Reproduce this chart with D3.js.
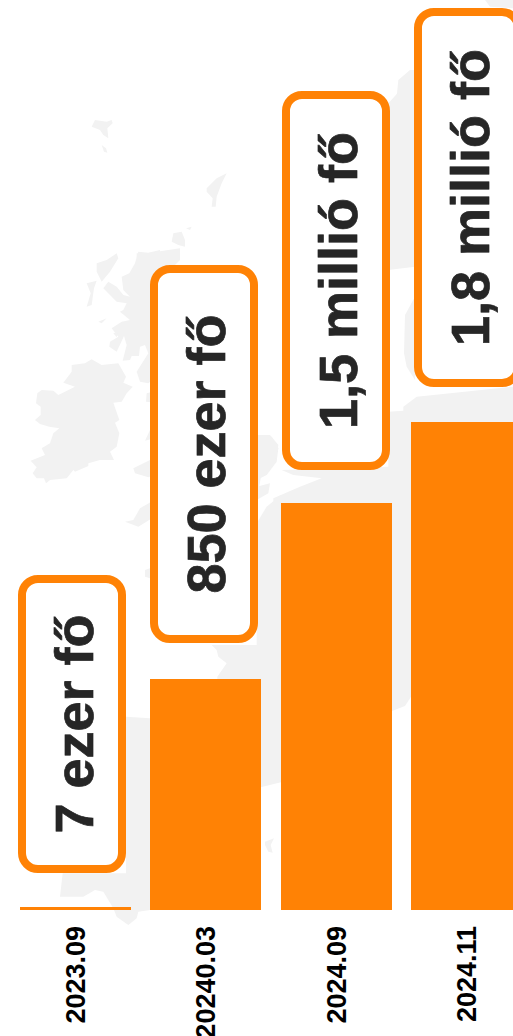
<!DOCTYPE html>
<html><head><meta charset="utf-8">
<script src="https://cdn.jsdelivr.net/npm/d3@7"></script>
<style>html,body{margin:0;padding:0;background:#fff;overflow:hidden}svg{display:block}</style>
</head><body><svg id="c" width="513" height="1036"></svg>
<script>
const categories=["2023.09","20240.03","2024.09","2024.11"];
const values=[7,850,1500,1800];
const valueLabels=["7 ezer fő","850 ezer fő","1,5 millió fő","1,8 millió fő"];
const boxTops=[579,269,95,12];
const boxBottoms=[869,639,466,383];
const orange="#ff8205",ink="#262626",land="#f2f2f2";
// Decorative background map: outlines traced at 3x, each group with its page offset
const mapGroups=[
 {o:[20,230],s:[
  [[155,405],[195,400],[215,388],[245,405],[295,400],[318,440],[310,458],[338,470],[320,490],[305,515],[280,518],[298,570],[285,578],[298,610],[290,650],[270,665],[282,690],[240,690],[205,700],[205,708],[165,725],[160,720],[140,745],[90,750],[78,760],[72,745],[50,745],[38,730],[50,712],[32,692],[75,675],[65,655],[90,640],[100,610],[118,595],[88,590],[60,582],[45,570],[62,555],[62,530],[48,520],[52,490],[65,480],[100,482],[115,495],[165,470],[130,458],[155,425]],
  [[355,65],[385,68],[420,60],[420,430],[385,460],[360,455],[350,425],[385,370],[375,345],[360,350],[357,378],[335,378],[330,390],[308,392],[320,345],[312,318],[290,365],[268,350],[270,335],[295,320],[275,295],[305,275],[330,270],[300,245],[280,255],[310,240],[320,220],[290,215],[270,195],[250,175],[265,155],[290,170],[310,195],[330,200],[310,180],[305,140],[328,130],[345,100]],
  [[290,70],[295,85],[270,125],[245,155],[230,125],[230,100],[260,90]],
  [[200,160],[230,152],[222,175],[215,225],[200,230],[212,190]],
  [[235,275],[260,265],[245,280]],
  [[280,310],[295,305],[290,322]],
  [[380,490],[420,480],[420,520],[378,515]],
  [[340,715],[390,690],[420,690],[420,730],[385,742],[345,730]],
  [[390,600],[420,590],[420,620],[375,632]],
  [[315,875],[340,870],[360,835],[420,800],[420,850],[355,890]]
 ]},
 {o:[0,100],s:[
  [[275,80],[285,60],[320,65],[335,60],[338,70],[322,85],[325,115],[310,105],[300,90]],
  [[305,135],[318,145],[322,158],[312,155]],
  [[620,265],[650,235],[680,220],[665,250],[650,290],[647,320],[635,320],[638,295],[620,275]],
  [[520,400],[545,395],[555,420],[555,440],[535,435],[515,425]],
  [[558,385],[575,380],[570,390]],
  [[410,460],[440,460],[540,445],[540,480],[500,520],[410,520]]
 ]},
 {o:[100,380],s:[
  [[470,165],[515,170],[535,205],[530,245],[500,285],[470,300]],
  [[470,320],[510,310],[505,340],[470,360]],
  [[470,430],[500,380],[543,345],[543,1207],[470,1225]],
  [[135,570],[150,565],[150,595],[135,590]]
 ]},
 {o:[250,0],s:[
  [[415,310],[440,290],[445,240],[470,250],[495,205],[495,800],[415,810]],
  [[465,945],[495,890],[495,1140],[470,1100],[462,1060]],
  [[415,1235],[495,1230],[495,1510],[70,1510],[70,1495],[150,1460],[215,1435],[130,1425],[95,1410],[415,1400]],
  [[20,1305],[60,1305],[85,1335],[75,1390],[35,1420],[20,1500]],
  [[426,1500],[483,1500],[483,2090],[465,2118],[426,2133]],
  [[45,2525],[72,2515],[62,2535],[68,2558],[55,2555],[45,2535]]
 ]},
 {o:[370,0],s:[
  [[120,210],[85,240],[100,260],[55,310],[133,310],[133,210]],
  [[100,1220],[140,1190],[429,1160],[429,1270],[100,1270]],
  [[345,0],[429,0],[429,25],[360,20]]
 ]},
 {o:[120,630],s:[
  [[275,45],[483,45],[483,330],[290,330],[292,140],[320,100],[295,80],[290,60]]
 ]},
 {o:[0,660],s:[
  [[378,170],[450,175],[450,750],[415,755],[410,775],[385,795],[350,770],[340,745],[310,695],[285,690],[250,710],[180,710],[188,640],[378,640]]
 ]}
];
const svg=d3.select("#c");
const mapG=svg.append("g").selectAll("g").data(mapGroups).join("g")
 .attr("transform",d=>`translate(${d.o[0]},${d.o[1]}) scale(${1/3})`);
mapG.selectAll("path").data(d=>d.s).join("path")
 .attr("d",d=>d3.line()(d)+"Z").attr("fill",land);

const x=d3.scalePoint().domain(categories).range([75.5,466.5]);
const xBox=d3.scalePoint().domain(categories).range([72,468]);
const barW=111;
const y=d3.scaleLinear().domain([0,1800]).range([910,422]);
const minH=3;
const rows=categories.map((c,i)=>({c,v:values[i],l:valueLabels[i],t:boxTops[i],b:boxBottoms[i]}));
const barTop=d=>Math.floor(Math.min(y(d.v),910-minH));
svg.append("g").selectAll("rect").data(rows).join("rect")
 .attr("x",d=>Math.round(x(d.c)-barW/2)).attr("width",barW)
 .attr("y",barTop).attr("height",d=>910-barTop(d))
 .attr("fill",orange);
const boxW=100;
const g=svg.append("g").selectAll("g").data(rows).join("g");
g.append("rect")
 .attr("x",d=>xBox(d.c)-boxW/2).attr("y",d=>d.t).attr("width",boxW)
 .attr("height",d=>d.b-d.t)
 .attr("rx",16).attr("fill","#fff").attr("stroke",orange).attr("stroke-width",8);
g.append("text")
 .attr("transform",d=>`translate(${xBox(d.c)+20.5},${(d.t+d.b)/2}) rotate(-90)`)
 .attr("text-anchor","middle").attr("font-family","Liberation Sans").attr("font-weight",700)
 .attr("font-size",54).attr("fill",ink).attr("stroke",ink).attr("stroke-width",0.7).text(d=>d.l);
svg.append("g").selectAll("text").data(rows).join("text")
 .attr("transform",d=>`translate(${x(d.c)+9.5},926) rotate(-90)`)
 .attr("text-anchor","end").attr("font-family","Liberation Sans").attr("font-weight",700)
 .attr("font-size",27).attr("fill","#000").text(d=>d.c);
</script></body></html>
